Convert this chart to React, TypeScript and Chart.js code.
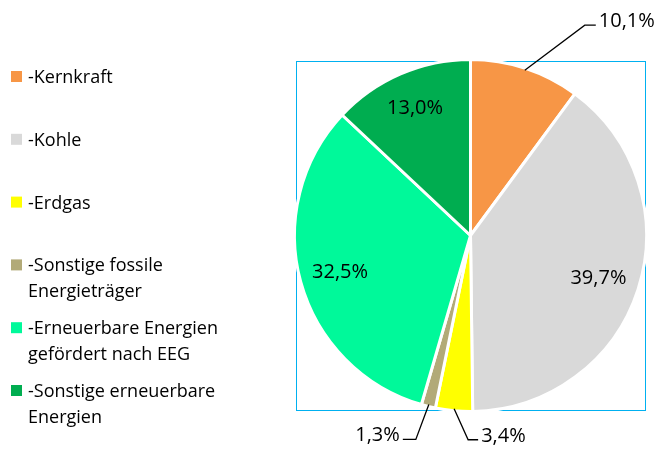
import React, { useEffect, useRef } from "react";
import { Chart, registerables } from "chart.js";

Chart.register(...registerables);

// ---- data ----
const categories = [
  "-Kernkraft",
  "-Kohle",
  "-Erdgas",
  "-Sonstige fossile Energieträger",
  "-Erneuerbare Energien gefördert nach EEG",
  "-Sonstige erneuerbare Energien",
];
const legendLines = [
  ["-Kernkraft"],
  ["-Kohle"],
  ["-Erdgas"],
  ["-Sonstige fossile", "Energieträger"],
  ["-Erneuerbare Energien", "gefördert nach EEG"],
  ["-Sonstige erneuerbare", "Energien"],
];
const shares = [10.1, 39.7, 3.4, 1.3, 32.5, 13.0];
const colors = ["#F79646", "#D9D9D9", "#FFFF00", "#B2AA78", "#00F99A", "#00AD50"];

// ---- label placement (style only) ----
type Placement =
  | { inside: true; f: number }
  | { inside: false; dx: number; dy: number; tail: number };
const placements: Placement[] = [
  { inside: false, dx: 60, dy: -45, tail: 11 },
  { inside: true, f: 0.77 },
  { inside: false, dx: 14, dy: 31, tail: 10 },
  { inside: false, dx: -13, dy: 35, tail: -13 },
  { inside: true, f: 0.775 },
  { inside: true, f: 0.8 },
];

const FONT = "'Open Sans', sans-serif";
const fmt = (v: number) => v.toFixed(1).replace(".", ",") + "%";

const boxPlugin = {
  id: "plotBox",
  beforeDatasetsDraw(chart: any) {
    const ctx = chart.ctx;
    const meta = chart.getDatasetMeta(0);
    const arc = meta.data[0];
    if (!arc) return;
    const r = arc.outerRadius - 1.5;
    ctx.save();
    ctx.strokeStyle = "#00B0F0";
    ctx.lineWidth = 1;
    ctx.strokeRect(
      Math.round(arc.x - r) + 0.5,
      Math.round(arc.y - r) + 0.5,
      Math.round(2 * r),
      Math.round(2 * r)
    );
    ctx.restore();
  },
};

const labelPlugin = {
  id: "valueLabels",
  afterDatasetsDraw(chart: any) {
    const ctx = chart.ctx;
    const meta = chart.getDatasetMeta(0);
    ctx.save();
    ctx.fillStyle = "#000000";
    ctx.strokeStyle = "#000000";
    ctx.lineWidth = 1.3;
    ctx.font = `20px ${FONT}`;
    meta.data.forEach((arc: any, i: number) => {
      const { x, y, startAngle, endAngle, outerRadius } = arc;
      const mid = (startAngle + endAngle) / 2;
      const p = placements[i];
      const text = fmt(shares[i]);
      if (p.inside) {
        const rr = (outerRadius - 1.5) * p.f;
        ctx.textAlign = "center";
        ctx.textBaseline = "alphabetic";
        ctx.fillText(text, x + Math.cos(mid) * rr, y + Math.sin(mid) * rr + 7);
      } else {
        const re = outerRadius - 2;
        const sx = x + Math.cos(mid) * re;
        const sy = y + Math.sin(mid) * re;
        const ex = sx + p.dx;
        const ey = sy + p.dy;
        const tx = ex + p.tail;
        ctx.beginPath();
        ctx.moveTo(sx, sy);
        ctx.lineTo(ex, ey);
        ctx.lineTo(tx, ey);
        ctx.stroke();
        ctx.textBaseline = "alphabetic";
        if (p.tail >= 0) {
          ctx.textAlign = "left";
          ctx.fillText(text, tx + 3, ey + 2);
        } else {
          ctx.textAlign = "right";
          ctx.fillText(text, tx - 3, ey + 2);
        }
      }
    });
    ctx.restore();
  },
};

const legendPlugin = {
  id: "sideLegend",
  afterDraw(chart: any) {
    const ctx = chart.ctx;
    ctx.save();
    ctx.font = `18px ${FONT}`;
    ctx.textAlign = "left";
    ctx.textBaseline = "alphabetic";
    const firstBaseline = 83;
    const itemStep = 62.8;
    const lineStep = 25.5;
    legendLines.forEach((lines, i) => {
      const base = firstBaseline + i * itemStep;
      ctx.fillStyle = colors[i];
      ctx.fillRect(11, base - 12, 11, 11);
      ctx.fillStyle = "#000000";
      lines.forEach((ln, j) => {
        ctx.fillText(ln, 28, base + j * lineStep);
      });
    });
    ctx.restore();
  },
};

export default function App() {
  const ref = useRef<HTMLCanvasElement>(null);
  useEffect(() => {
    if (!ref.current) return;
    const chart = new Chart(ref.current, {
      type: "pie",
      data: {
        labels: categories,
        datasets: [
          {
            data: shares,
            backgroundColor: colors,
            borderColor: "#FFFFFF",
            borderWidth: 3,
          },
        ],
      },
      options: {
        responsive: false,
        animation: false,
        devicePixelRatio: 1,
        layout: { padding: { left: 293, right: 13, top: 58, bottom: 38 } },
        plugins: {
          legend: { display: false },
          tooltip: { enabled: false },
          title: { display: false },
        },
      },
      plugins: [boxPlugin, labelPlugin, legendPlugin],
    });
    return () => chart.destroy();
  }, []);
  return (
    <div style={{ position: "absolute", left: 0, top: 0, width: 661, height: 451, background: "#fff" }}>
      <canvas ref={ref} width={661} height={451} style={{ display: "block", width: 661, height: 451 }} />
    </div>
  );
}
